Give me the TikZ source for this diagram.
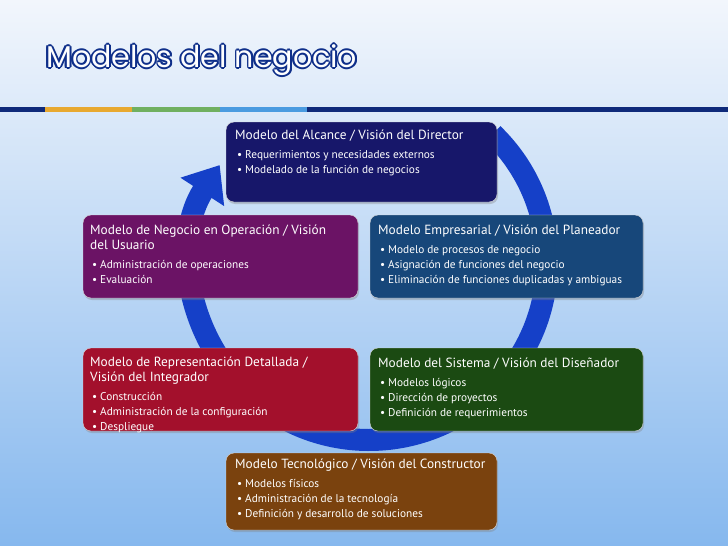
\documentclass[tikz,border=0pt]{standalone}
\usepackage{fontspec}
\setmainfont{PT Sans}
\newfontfamily\titlefont{Poppins}
\usetikzlibrary{arrows.meta,shadows}
\definecolor{bgtop}{HTML}{F2F6FC}
\definecolor{bgbot}{HTML}{86B8EE}
\definecolor{ring}{HTML}{1540C8}
\definecolor{cnavy}{HTML}{17176A}
\definecolor{cpurple}{HTML}{6B1365}
\definecolor{cblue}{HTML}{17477A}
\definecolor{cred}{HTML}{A3102C}
\definecolor{cgreen}{HTML}{1B4A12}
\definecolor{cbrown}{HTML}{7A420E}
\definecolor{sNavy}{HTML}{0F2A7A}
\definecolor{sOrange}{HTML}{E8A930}
\definecolor{sGreen}{HTML}{70B060}
\definecolor{sLight}{HTML}{4A9BE0}
\definecolor{titleedge}{HTML}{0F2F8A}
\tikzset{
 boxbg/.style={rounded corners=8pt, draw=white!70!gray, line width=0.4pt, drop shadow={shadow xshift=1pt,shadow yshift=-2pt,opacity=0.35}},
 boxtext/.style={anchor=north west, text=white, align=left, inner sep=0pt, font=\fontsize{13.3}{15}\selectfont},
}
\newcommand{\bul}[1]{\\[4pt]{\fontsize{11.3}{14}\selectfont\,\textbullet\ #1}}
\newcommand{\bulx}[1]{\\[0pt]{\fontsize{11.3}{14}\selectfont\,\textbullet\ #1}}
\begin{document}
\begin{tikzpicture}[x=1pt,y=-1pt]
\useasboundingbox (0,0) rectangle (728,546);
\shade[top color=bgtop, bottom color=bgbot] (0,0) rectangle (728,546);
% stripe
\fill[sNavy] (0,107) rectangle (45,112);
\fill[sOrange] (45,107) rectangle (132,112);
\fill[sGreen] (132,107) rectangle (220,112);
\fill[sLight] (220,107) rectangle (307,112);
\fill[sNavy] (307,107) rectangle (728,112);
% title
\foreach \dx/\dy in {-1.8/0,1.8/0,0/-1.8,0/1.8,-1.3/-1.3,1.3/1.3,-1.3/1.3,1.3/-1.3}{
 \node[anchor=west, inner sep=0pt, text=titleedge] at (46+\dx,60+\dy) {\resizebox{311pt}{!}{\titlefont Modelos del negocio}};}
\node (title) [anchor=west, inner sep=0pt, text=white] at (46,60) {\resizebox{311pt}{!}{\titlefont Modelos del negocio}};
% ring
\draw[ring, line width=22pt, -{Triangle[width=50pt,length=32pt]}] (369,262) ++(-46:178) arc[start angle=-46, end angle=213, radius=178];
% boxes
\path[boxbg, fill=cnavy] (226,122) rectangle (497,202);
\node (n1) [boxtext] at (235,130) {Modelo del Alcance / Visión del Director\bul{Requerimientos y necesidades externos}\bulx{Modelado de la función de negocios}};
\path[boxbg, fill=cpurple] (83,215) rectangle (358,298);
\node (n2) [boxtext] at (90,225) {Modelo de Negocio en Operación / Visión\\ del Usuario\bul{Administración de operaciones}\bulx{Evaluación}};
\path[boxbg, fill=cblue] (370,215) rectangle (643,298);
\node (n3) [boxtext] at (378,225) {Modelo Empresarial / Visión del Planeador\bul{Modelo de procesos de negocio}\bulx{Asignación de funciones del negocio}\bulx{Eliminación de funciones duplicadas y ambiguas}};
\path[boxbg, fill=cred] (83,348) rectangle (358,431);
\node (n4) [boxtext] at (90,357) {Modelo de Representación Detallada /\\ Visión del Integrador\bul{Construcción}\bulx{Administración de la configuración}\bulx{Despliegue}};
\path[boxbg, fill=cgreen] (370,348) rectangle (643,431);
\node (n5) [boxtext] at (378,358) {Modelo del Sistema / Visión del Diseñador\bul{Modelos lógicos}\bulx{Dirección de proyectos}\bulx{Definición de requerimientos}};
\path[boxbg, fill=cbrown] (226,453) rectangle (497,530);
\node (n6) [boxtext] at (235,459) {Modelo Tecnológico / Visión del Constructor\bul{Modelos físicos}\bulx{Administración de la tecnología}\bulx{Definición y desarrollo de soluciones}};
\end{tikzpicture}
\end{document}
